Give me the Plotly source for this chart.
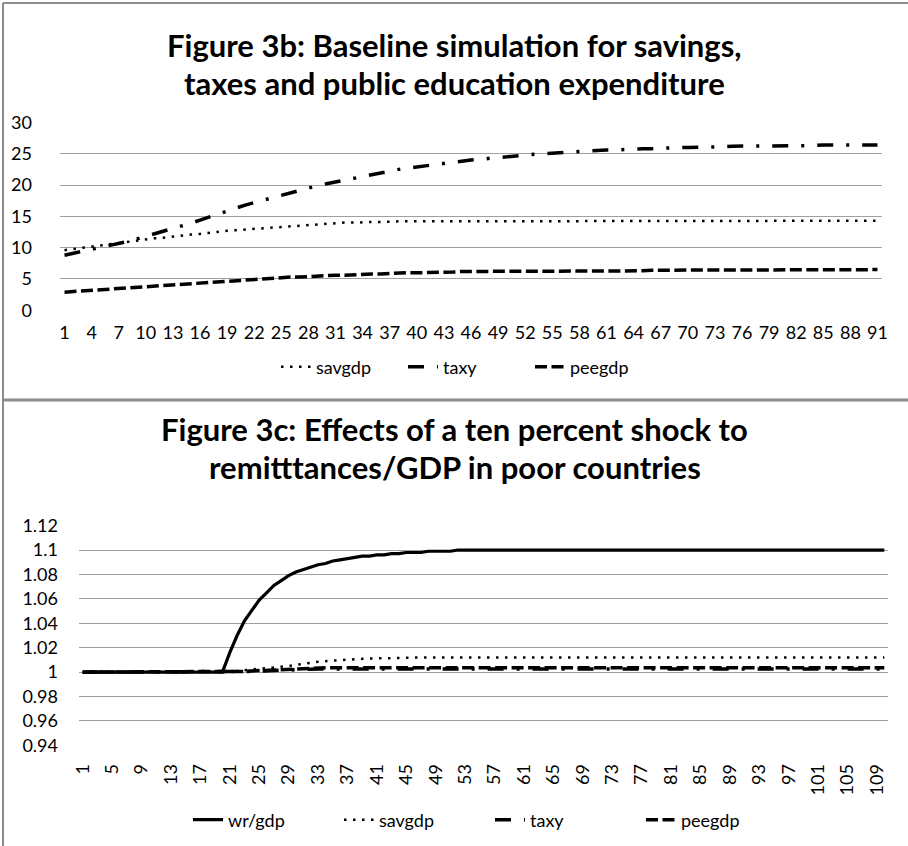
import plotly.graph_objects as go

# ---------------- Figure 3b: baseline simulation (periods 1..91) ----------------
periods_b = list(range(1, 92))

savgdp_b = [
    9.6, 9.8, 10.0, 10.2, 10.4, 10.6, 10.8, 11.0, 11.2, 11.3,
    11.5, 11.6, 11.8, 11.9, 12.1, 12.2, 12.4, 12.5, 12.7, 12.8,
    12.9, 13.1, 13.2, 13.3, 13.4, 13.5, 13.6, 13.7, 13.8, 13.9,
    13.9, 14.0, 14.0, 14.1, 14.1, 14.1, 14.2, 14.2, 14.2, 14.2,
    14.2, 14.2, 14.2, 14.2, 14.2, 14.3, 14.3, 14.3, 14.3, 14.3,
    14.3, 14.3, 14.3, 14.3, 14.3, 14.3, 14.3, 14.3, 14.3, 14.3,
    14.3, 14.3, 14.3, 14.3, 14.3, 14.3, 14.3, 14.3, 14.3, 14.3,
    14.3, 14.3, 14.3, 14.3, 14.3, 14.3, 14.3, 14.3, 14.3, 14.3,
    14.3, 14.3, 14.3, 14.3, 14.3, 14.3, 14.3, 14.3, 14.3, 14.3, 14.3,
]

taxy_b = [
    8.8, 9.1, 9.4, 9.7, 10.0, 10.3, 10.6, 11.0, 11.4, 11.8,
    12.2, 12.6, 13.0, 13.5, 13.9, 14.4, 14.9, 15.4, 15.8, 16.3,
    16.8, 17.2, 17.6, 18.0, 18.4, 18.8, 19.2, 19.5, 19.9, 20.2,
    20.5, 20.8, 21.1, 21.4, 21.7, 22.0, 22.2, 22.5, 22.7, 22.9,
    23.1, 23.3, 23.5, 23.7, 23.8, 24.0, 24.1, 24.3, 24.4, 24.5,
    24.7, 24.8, 24.9, 25.0, 25.1, 25.2, 25.3, 25.3, 25.4, 25.5,
    25.6, 25.6, 25.7, 25.7, 25.8, 25.8, 25.9, 25.9, 26.0, 26.0,
    26.0, 26.1, 26.1, 26.1, 26.2, 26.2, 26.2, 26.2, 26.3, 26.3,
    26.3, 26.3, 26.3, 26.3, 26.4, 26.4, 26.4, 26.4, 26.4, 26.4, 26.4,
]

peegdp_b = [
    2.9, 3.0, 3.1, 3.2, 3.3, 3.4, 3.5, 3.6, 3.7, 3.8,
    3.9, 4.0, 4.0, 4.1, 4.2, 4.3, 4.4, 4.5, 4.6, 4.7,
    4.8, 4.9, 5.0, 5.1, 5.2, 5.3, 5.3, 5.4, 5.5, 5.5,
    5.6, 5.6, 5.7, 5.7, 5.8, 5.8, 5.9, 5.9, 6.0, 6.0,
    6.0, 6.1, 6.1, 6.1, 6.2, 6.2, 6.2, 6.2, 6.2, 6.2,
    6.2, 6.2, 6.2, 6.2, 6.2, 6.3, 6.3, 6.3, 6.3, 6.3,
    6.3, 6.3, 6.3, 6.3, 6.3, 6.4, 6.4, 6.4, 6.4, 6.4,
    6.4, 6.4, 6.4, 6.4, 6.4, 6.4, 6.4, 6.4, 6.4, 6.4,
    6.5, 6.5, 6.5, 6.5, 6.5, 6.5, 6.5, 6.5, 6.5, 6.5, 6.5,
]

ticks_b = periods_b[::3]          # 1, 4, 7, ... 91
yticks_b = [0, 5, 10, 15, 20, 25, 30]

# ---------------- Figure 3c: remittance shock (periods 1..110) ----------------
periods_c = list(range(1, 111))

wr_gdp_c = [
    1.0, 1.0, 1.0, 1.0, 1.0, 1.0, 1.0, 1.0, 1.0, 1.0,
    1.0, 1.0, 1.0, 1.0, 1.0, 1.0, 1.0, 1.0, 1.0, 1.0,
    1.016, 1.030, 1.042, 1.051, 1.059, 1.065, 1.071, 1.075, 1.079, 1.082,
    1.084, 1.086, 1.088, 1.089, 1.091, 1.092, 1.093, 1.094, 1.095, 1.095,
    1.096, 1.096, 1.097, 1.097, 1.098, 1.098, 1.098, 1.099, 1.099, 1.099,
    1.099, 1.100, 1.1, 1.1, 1.1, 1.1, 1.1, 1.1, 1.1, 1.1,
    1.1, 1.1, 1.1, 1.1, 1.1, 1.1, 1.1, 1.1, 1.1, 1.1,
    1.1, 1.1, 1.1, 1.1, 1.1, 1.1, 1.1, 1.1, 1.1, 1.1,
    1.1, 1.1, 1.1, 1.1, 1.1, 1.1, 1.1, 1.1, 1.1, 1.1,
    1.1, 1.1, 1.1, 1.1, 1.1, 1.1, 1.1, 1.1, 1.1, 1.1,
    1.1, 1.1, 1.1, 1.1, 1.1, 1.1, 1.1, 1.1, 1.1, 1.1,
]

savgdp_c = [
    1.0, 1.0, 1.0, 1.0, 1.0, 1.0, 1.0, 1.0, 1.0, 1.0,
    1.0, 1.0, 1.0, 1.0, 1.0, 1.0, 1.0, 1.0, 1.0, 1.0,
    1.0003, 1.001, 1.0015, 1.002, 1.003, 1.0035, 1.004, 1.0045, 1.005, 1.006,
    1.007, 1.0077, 1.0085, 1.009, 1.0095, 1.010, 1.0103, 1.0106, 1.0109, 1.0111,
    1.0113, 1.0115, 1.0117, 1.0118, 1.0119, 1.012, 1.012, 1.012, 1.012, 1.012,
    1.012, 1.012, 1.012, 1.012, 1.012, 1.012, 1.012, 1.012, 1.012, 1.012,
    1.012, 1.012, 1.012, 1.012, 1.012, 1.012, 1.012, 1.012, 1.012, 1.012,
    1.012, 1.012, 1.012, 1.012, 1.012, 1.012, 1.012, 1.012, 1.012, 1.012,
    1.012, 1.012, 1.012, 1.012, 1.012, 1.012, 1.012, 1.012, 1.012, 1.012,
    1.012, 1.012, 1.012, 1.012, 1.012, 1.012, 1.012, 1.012, 1.012, 1.012,
    1.012, 1.012, 1.012, 1.012, 1.012, 1.012, 1.012, 1.012, 1.012, 1.012,
]

taxy_c = [
    1.0, 1.0, 1.0, 1.0, 1.0, 1.0, 1.0, 1.0, 1.0, 1.0,
    1.0, 1.0, 1.0, 1.0, 1.0, 1.0, 1.0, 1.0, 1.0, 1.0,
    1.0, 1.0002, 1.0004, 1.0006, 1.0009, 1.0012, 1.0015, 1.0018, 1.002, 1.0022,
    1.0023, 1.0024, 1.0025, 1.0025, 1.0025, 1.0025, 1.0025, 1.0025, 1.0025, 1.0025,
    1.0025, 1.0025, 1.0025, 1.0025, 1.0025, 1.0025, 1.0025, 1.0025, 1.0025, 1.0025,
    1.0025, 1.0025, 1.0025, 1.0025, 1.0025, 1.0025, 1.0025, 1.0025, 1.0025, 1.0025,
    1.0025, 1.0025, 1.0025, 1.0025, 1.0025, 1.0025, 1.0025, 1.0025, 1.0025, 1.0025,
    1.0025, 1.0025, 1.0025, 1.0025, 1.0025, 1.0025, 1.0025, 1.0025, 1.0025, 1.0025,
    1.0025, 1.0025, 1.0025, 1.0025, 1.0025, 1.0025, 1.0025, 1.0025, 1.0025, 1.0025,
    1.0025, 1.0025, 1.0025, 1.0025, 1.0025, 1.0025, 1.0025, 1.0025, 1.0025, 1.0025,
    1.0025, 1.0025, 1.0025, 1.0025, 1.0025, 1.0025, 1.0025, 1.0025, 1.0025, 1.0025,
]

peegdp_c = [
    1.0, 1.0, 1.0, 1.0, 1.0, 1.0, 1.0, 1.0, 1.0, 1.0,
    1.0, 1.0, 1.0, 1.0, 1.0, 1.0, 1.0, 1.0, 1.0, 1.0,
    1.0, 1.0003, 1.0006, 1.001, 1.0013, 1.0017, 1.002, 1.0024, 1.0027, 1.003,
    1.0032, 1.0033, 1.0034, 1.0035, 1.0035, 1.0035, 1.0035, 1.0035, 1.0035, 1.0035,
    1.0035, 1.0035, 1.0035, 1.0035, 1.0035, 1.0035, 1.0035, 1.0035, 1.0035, 1.0035,
    1.0035, 1.0035, 1.0035, 1.0035, 1.0035, 1.0035, 1.0035, 1.0035, 1.0035, 1.0035,
    1.0035, 1.0035, 1.0035, 1.0035, 1.0035, 1.0035, 1.0035, 1.0035, 1.0035, 1.0035,
    1.0035, 1.0035, 1.0035, 1.0035, 1.0035, 1.0035, 1.0035, 1.0035, 1.0035, 1.0035,
    1.0035, 1.0035, 1.0035, 1.0035, 1.0035, 1.0035, 1.0035, 1.0035, 1.0035, 1.0035,
    1.0035, 1.0035, 1.0035, 1.0035, 1.0035, 1.0035, 1.0035, 1.0035, 1.0035, 1.0035,
    1.0035, 1.0035, 1.0035, 1.0035, 1.0035, 1.0035, 1.0035, 1.0035, 1.0035, 1.0035,
]

ticks_c = periods_c[::4]          # 1, 5, 9, ... 109
yticks_c = [0.94, 0.96, 0.98, 1.0, 1.02, 1.04, 1.06, 1.08, 1.1, 1.12]
ytext_c = ["0.94", "0.96", "0.98", "1", "1.02", "1.04", "1.06", "1.08", "1.1", "1.12"]

# ---------------- page geometry (pixels) ----------------
W, H = 908, 846
FONT = "Lato"
BORDER = "#8c8c8c"
GRID = "#a0a0a0"


def px_x(x):
    return x / W


def px_y(y):
    return 1 - y / H


DOT = "2.5px,6.5px"
DASHDOT = "16px,13px,3px,13px"
DASH = "12px,4.5px"

fig = go.Figure()

# Figure 3b series
fig.add_trace(go.Scatter(x=periods_b, y=savgdp_b, name="savgdp", mode="lines",
                         line=dict(color="black", width=2.5, dash=DOT),
                         xaxis="x", yaxis="y", legend="legend"))
fig.add_trace(go.Scatter(x=periods_b, y=taxy_b, name="taxy", mode="lines",
                         line=dict(color="black", width=3.5, dash=DASHDOT),
                         xaxis="x", yaxis="y", legend="legend"))
fig.add_trace(go.Scatter(x=periods_b, y=peegdp_b, name="peegdp", mode="lines",
                         line=dict(color="black", width=3.5, dash=DASH),
                         xaxis="x", yaxis="y", legend="legend"))

# Figure 3c series
fig.add_trace(go.Scatter(x=periods_c, y=wr_gdp_c, name="wr/gdp", mode="lines",
                         line=dict(color="black", width=3.2),
                         xaxis="x2", yaxis="y2", legend="legend2"))
fig.add_trace(go.Scatter(x=periods_c, y=savgdp_c, name="savgdp", mode="lines",
                         line=dict(color="black", width=2.5, dash=DOT),
                         xaxis="x2", yaxis="y2", legend="legend2"))
fig.add_trace(go.Scatter(x=periods_c, y=taxy_c, name="taxy", mode="lines",
                         line=dict(color="black", width=3.5, dash=DASHDOT),
                         xaxis="x2", yaxis="y2", legend="legend2"))
fig.add_trace(go.Scatter(x=periods_c, y=peegdp_c, name="peegdp", mode="lines",
                         line=dict(color="black", width=3.5, dash=DASH),
                         xaxis="x2", yaxis="y2", legend="legend2"))

tick_font = dict(family=FONT, size=18, color="black")
legend_font = dict(family=FONT, size=18, color="black")

fig.update_layout(
    template="none",
    width=W, height=H,
    margin=dict(l=0, r=0, t=0, b=0, autoexpand=False),
    paper_bgcolor="white", plot_bgcolor="white",
    font=dict(family=FONT, color="black"),
    xaxis=dict(domain=[px_x(60), px_x(882)], range=[0.5, 91.5],
               tickmode="array", tickvals=ticks_b, ticktext=[str(t) for t in ticks_b],
               tickangle=0, showgrid=False, zeroline=False, showline=False,
               ticks="", tickfont=tick_font, ticklabelstandoff=9, anchor="y",
               automargin=False),
    yaxis=dict(domain=[px_y(310.5), px_y(122.2)], range=[-0.03, 30.03],
               tickmode="array", tickvals=yticks_b,
               showgrid=True, gridcolor=GRID, gridwidth=1, zeroline=False,
               showline=False, ticks="", tickfont=tick_font,
               ticklabelstandoff=27, anchor="x", automargin=False),
    xaxis2=dict(domain=[px_x(79), px_x(888)], range=[0.5, 110.5],
                tickmode="array", tickvals=ticks_c, ticktext=[str(t) for t in ticks_c],
                tickangle=-90, showgrid=False, zeroline=False, showline=False,
                ticks="", tickfont=tick_font, ticklabelstandoff=14, anchor="y2",
                automargin=False),
    yaxis2=dict(domain=[px_y(745.5), px_y(525.5)], range=[0.9399, 1.1201],
                tickmode="array", tickvals=yticks_c, ticktext=ytext_c,
                showgrid=True, gridcolor=GRID, gridwidth=1, zeroline=False,
                showline=False, ticks="", tickfont=tick_font,
                ticklabelstandoff=20, anchor="x2", automargin=False),
    legend=dict(orientation="h", x=px_x(276), xanchor="left", y=px_y(367), yanchor="middle",
                font=legend_font, bgcolor="rgba(0,0,0,0)", tracegroupgap=0,
                entrywidth=82, entrywidthmode="pixels"),
    legend2=dict(orientation="h", x=px_x(188), xanchor="left", y=px_y(820), yanchor="middle",
                 font=legend_font, bgcolor="rgba(0,0,0,0)", tracegroupgap=0,
                 entrywidth=106, entrywidthmode="pixels"),
    showlegend=True,
)

# chart titles, one annotation per line for tight line spacing
title_font = dict(family=FONT, size=31, color="black")
title_lines = [
    ("Figure 3b: Baseline simulation for savings,", 454, 45),
    ("taxes and public education expenditure", 454, 83),
    ("Figure 3c: Effects of a ten percent shock to", 455, 429),
    ("remitttances/GDP in poor countries", 455, 467),
]
for text, cx, cy in title_lines:
    fig.add_annotation(text=f"<b>{text}</b>", x=px_x(cx), y=px_y(cy),
                       xref="paper", yref="paper", xanchor="center", yanchor="middle",
                       showarrow=False, font=title_font)

# chart-area frames
frame = dict(type="line", xref="paper", yref="paper", line=dict(color=BORDER, width=2))
fig.add_shape(**frame, x0=px_x(3), x1=1, y0=px_y(3), y1=px_y(3))
fig.add_shape(**frame, x0=px_x(3), x1=px_x(3), y0=px_y(3), y1=0)
fig.add_shape(type="line", xref="paper", yref="paper", line=dict(color=BORDER, width=3),
              x0=px_x(3), x1=1, y0=px_y(400), y1=px_y(400))

fig.write_html("out.html")
